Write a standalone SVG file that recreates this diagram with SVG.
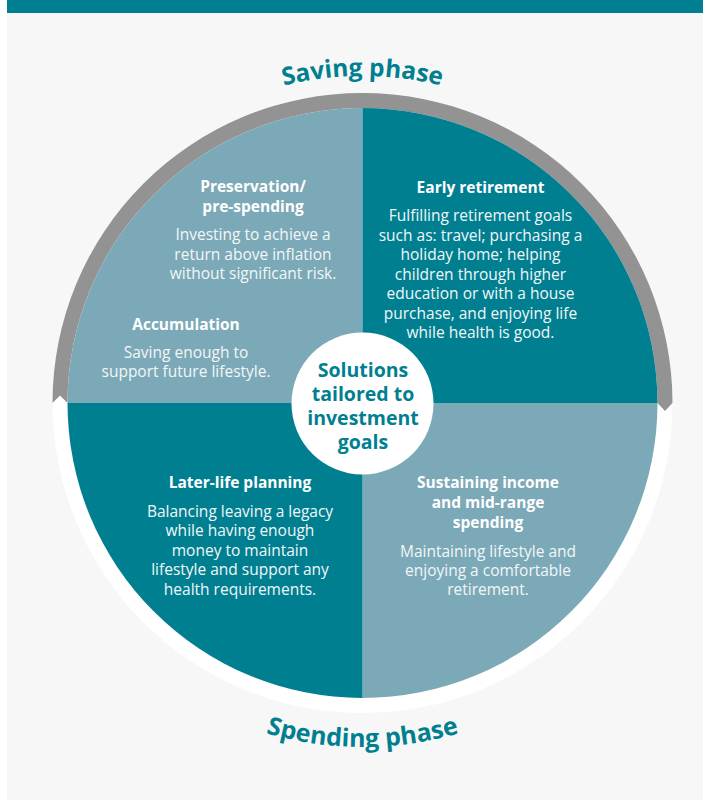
<svg xmlns="http://www.w3.org/2000/svg" width="703" height="800" viewBox="0 0 703 800">
<style>
.teal{fill:#007f91}
.light{fill:#7ca9b7}
.h{font-family:"Open Sans","Liberation Sans",sans-serif;font-weight:700;font-size:15.5px;fill:#fff;text-anchor:middle}
.b{font-family:"Open Sans","Liberation Sans",sans-serif;font-weight:400;font-size:15.5px;fill:#f2f7f8;text-anchor:middle}
.c{font-family:"Open Sans","Liberation Sans",sans-serif;font-weight:700;font-size:19.5px;fill:#007f91;text-anchor:middle}
.p{font-family:"Open Sans","Liberation Sans",sans-serif;font-weight:700;font-size:24.5px;fill:#007f91;text-anchor:middle}
</style>
<defs>
<path id="topArc" d="M 35.5 403 A 327 327 0 0 1 689.5 403"/>
<path id="botArc" d="M 18.5 403 A 344 344 0 0 0 706.5 403"/>
</defs>
<rect x="0" y="0" width="703" height="800" fill="#ffffff"/>
<rect x="7" y="13" width="696" height="787" fill="#f7f7f7"/>
<rect x="7" y="0" width="696" height="13" class="teal"/>
<g id="ring">
<circle cx="362.5" cy="403" r="310" fill="#ffffff"/>
<path d="M 52.5 403 A 310 310 0 0 1 672.5 403 L 665 411 L 657.5 403 A 295 295 0 0 0 67.5 403 L 60 395.5 Z" fill="#939393"/>
</g>
<g id="saving-phase">
<text class="p"><textPath href="#topArc" startOffset="50%">Saving phase</textPath></text>
</g>
<g id="spending-phase">
<text class="p" style="font-size:25px"><textPath href="#botArc" startOffset="50%">Spending phase</textPath></text>
</g>
<g id="preservation-accumulation">
<path class="light" d="M362.5 403 L67.5 403 A295 295 0 0 1 362.5 108 Z"/>
<text class="h" x="253" y="192">Preservation/</text>
<text class="h" x="253" y="211.5">pre-spending</text>
<text class="b" x="253" y="240">Investing to achieve a</text>
<text class="b" x="253" y="259.5">return above inflation</text>
<text class="b" x="253" y="278.5">without significant risk.</text>
<text class="h" x="186" y="330">Accumulation</text>
<text class="b" x="186" y="358">Saving enough to</text>
<text class="b" x="186" y="377">support future lifestyle.</text>
</g>
<g id="early-retirement">
<path class="teal" d="M362.5 403 L362.5 108 A295 295 0 0 1 657.5 403 Z"/>
<text class="h" x="480.5" y="193">Early retirement</text>
<text class="b" x="480.5" y="221">Fulfilling retirement goals</text>
<text class="b" x="480.5" y="240.5">such as: travel; purchasing a</text>
<text class="b" x="480.5" y="260">holiday home; helping</text>
<text class="b" x="480.5" y="279.5">children through higher</text>
<text class="b" x="480.5" y="299">education or with a house</text>
<text class="b" x="480.5" y="318.5">purchase, and enjoying life</text>
<text class="b" x="480.5" y="338">while health is good.</text>
</g>
<g id="sustaining-income">
<path class="light" d="M362.5 403 L657.5 403 A295 295 0 0 1 362.5 698 Z"/>
<text class="h" x="488" y="488">Sustaining income</text>
<text class="h" x="488" y="508">and mid-range</text>
<text class="h" x="488" y="528">spending</text>
<text class="b" x="488" y="557">Maintaining lifestyle and</text>
<text class="b" x="488" y="576">enjoying a comfortable</text>
<text class="b" x="488" y="595">retirement.</text>
</g>
<g id="later-life-planning">
<path class="teal" d="M362.5 403 L362.5 698 A295 295 0 0 1 67.5 403 Z"/>
<text class="h" x="240" y="488">Later-life planning</text>
<text class="b" x="240" y="516.5">Balancing leaving a legacy</text>
<text class="b" x="240" y="536">while having enough</text>
<text class="b" x="240" y="555.5">money to maintain</text>
<text class="b" x="240" y="575">lifestyle and support any</text>
<text class="b" x="240" y="594.5">health requirements.</text>
</g>
<g id="center">
<circle cx="362.5" cy="403.5" r="71" fill="#ffffff"/>
<text class="c" x="363" y="377">Solutions</text>
<text class="c" x="363" y="401">tailored to</text>
<text class="c" x="363" y="425">investment</text>
<text class="c" x="363" y="449">goals</text>
</g>
</svg>
